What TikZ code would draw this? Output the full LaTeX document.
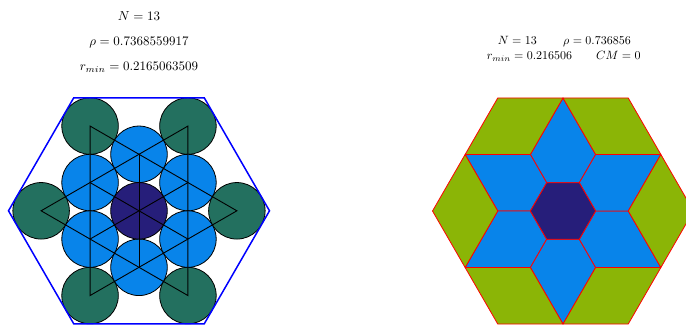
\documentclass[tikz,border=0pt]{standalone}
\definecolor{cteal}{RGB}{35,112,95}
\definecolor{cblue}{RGB}{8,132,234}
\definecolor{cnavy}{RGB}{38,30,122}
\definecolor{colive}{RGB}{139,181,6}
\tikzset{
  circ/.style={draw=black, line width=0.8pt},
  latline/.style={draw=black, line width=0.9pt, line join=miter},
  hexb/.style={draw=blue, line width=1.5pt, line join=miter},
  cell/.style={draw=red, line width=0.8pt, line join=round},
  lefttxt/.style={anchor=base, scale=1.3, inner sep=0pt},
  righttxt/.style={anchor=base west, scale=1.2, inner sep=0pt}
}
\begin{document}
\begin{tikzpicture}[x=1pt,y=1pt]
\useasboundingbox (0,0) rectangle (686,325);
\clip (0,0) rectangle (686,325);
% ---- texts
\node[lefttxt] (ln) at (139,304.3) {$N=13$};
\node[lefttxt] (lrho) at (139,280) {$\rho=0.7368559917$};
\node[lefttxt] (lr) at (139,254.3) {$r_{min}=0.2165063509$};
\node[righttxt] (rn) at (497.7,281) {$N=13$};
\node[righttxt] (rrho) at (563,281) {$\rho=0.736856$};
\node[righttxt] (rr) at (486.7,265.7) {$r_{min}=0.216506$};
\node[righttxt] (rcm) at (596,265.7) {$CM=0$};
% ---- left: circle packing
\begin{scope}[shift={(139,114.2)}, x=130.5pt, y=130.5pt]
  \foreach \a in {0,60,...,300}
    \draw[circ, fill=cteal] (\a:0.75) circle[radius=0.21651];
  \foreach \a in {30,90,...,330}
    \draw[circ, fill=cblue] (\a:0.43301) circle[radius=0.21651];
  \draw[circ, fill=cnavy] (0,0) circle[radius=0.21651];
  \draw[latline] (0:0.75)--(120:0.75)--(240:0.75)--cycle;
  \draw[latline] (60:0.75)--(180:0.75)--(300:0.75)--cycle;
  \draw[latline] (30:0.43301)--(210:0.43301);
  \draw[latline] (90:0.43301)--(270:0.43301);
  \draw[latline] (150:0.43301)--(330:0.43301);
  \draw[hexb] (0:1)--(60:1)--(120:1)--(180:1)--(240:1)--(300:1)--cycle;
\end{scope}
% ---- right: Voronoi cells
\begin{scope}[shift={(563,114)}, x=130.5pt, y=130.5pt]
  \foreach \a in {0,60,...,300} {
    \begin{scope}[rotate=\a]
      \draw[cell, fill=cblue] (120:0.25)--(60:0.25)--(60:0.5)--(90:0.86603)--(120:0.5)--cycle;
      \draw[cell, fill=colive] (90:0.86603)--(60:1)--(30:0.86603)--(60:0.5)--cycle;
    \end{scope}
  }
  \draw[cell, fill=cnavy] (0:0.25)--(60:0.25)--(120:0.25)--(180:0.25)--(240:0.25)--(300:0.25)--cycle;
\end{scope}
\end{tikzpicture}
\end{document}
